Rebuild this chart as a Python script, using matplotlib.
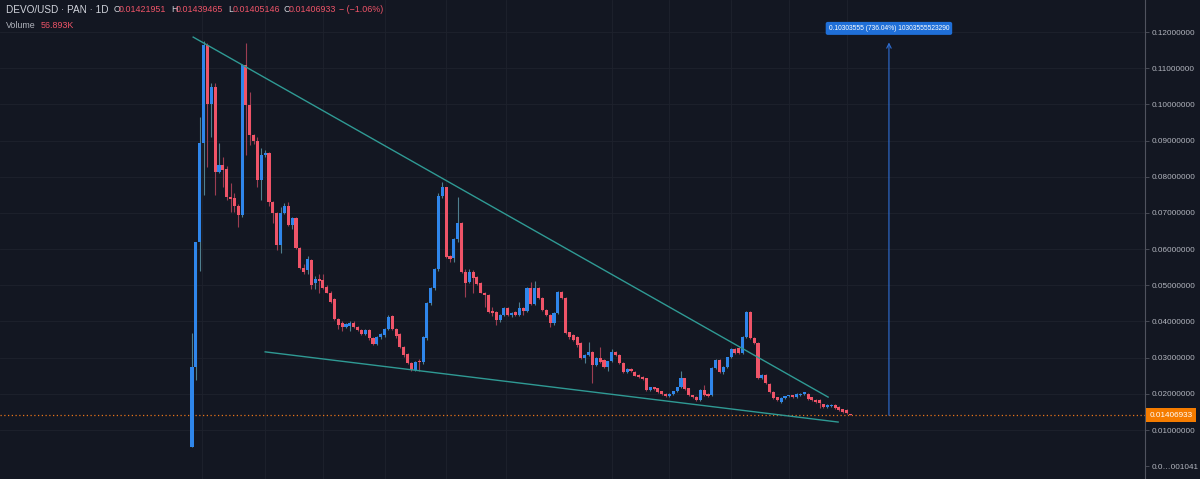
import matplotlib.pyplot as plt
import matplotlib.transforms as mtransforms

# DEVO/USD daily candles
opens = [0.0053, 0.0274, 0.0620, 0.0893, 0.1164, 0.1000, 0.1048, 0.0813, 0.0832, 0.0821,
         0.0745, 0.0741, 0.0718, 0.0694, 0.1109, 0.0998, 0.0915, 0.0899, 0.0791, 0.0860,
         0.0865, 0.0730, 0.0700, 0.0610, 0.0700, 0.0720, 0.0667, 0.0686, 0.0603, 0.0548,
         0.0543, 0.0570, 0.0506, 0.0517, 0.0514, 0.0495, 0.0480, 0.0462, 0.0407, 0.0396,
         0.0385, 0.0388, 0.0396, 0.0385, 0.0377, 0.0365, 0.0377, 0.0354, 0.0338, 0.0357,
         0.0362, 0.0379, 0.0414, 0.0379, 0.0365, 0.0330, 0.0310, 0.0285, 0.0266, 0.0288,
         0.0287, 0.0354, 0.0450, 0.0492, 0.0544, 0.0746, 0.0771, 0.0580, 0.0575, 0.0627,
         0.0672, 0.0537, 0.0509, 0.0537, 0.0523, 0.0506, 0.0480, 0.0474, 0.0428, 0.0426,
         0.0404, 0.0418, 0.0437, 0.0418, 0.0426, 0.0418, 0.0437, 0.0430, 0.0492, 0.0448,
         0.0492, 0.0465, 0.0432, 0.0418, 0.0396, 0.0423, 0.0481, 0.0465, 0.0370, 0.0362,
         0.0357, 0.0340, 0.0300, 0.0307, 0.0315, 0.0280, 0.0300, 0.0293, 0.0274, 0.0290,
         0.0315, 0.0307, 0.0285, 0.0260, 0.0270, 0.0260, 0.0252, 0.0246, 0.0243, 0.0210,
         0.0218, 0.0215, 0.0207, 0.0200, 0.0193, 0.0200, 0.0207, 0.0218, 0.0243, 0.0215,
         0.0196, 0.0192, 0.0183, 0.0210, 0.0200, 0.0196, 0.0271, 0.0293, 0.0260, 0.0274,
         0.0301, 0.0324, 0.0326, 0.0312, 0.0357, 0.0426, 0.0354, 0.0340, 0.0243, 0.0252,
         0.0227, 0.0205, 0.0190, 0.0178, 0.0188, 0.0193, 0.0196, 0.0190, 0.0196, 0.0199,
         0.0200, 0.0190, 0.0183, 0.0183, 0.0171, 0.0163, 0.0166, 0.0169, 0.0163, 0.0157,
         0.0155, 0.01421951]
highs = [0.0368, 0.0620, 0.0965, 0.1175, 0.1170, 0.1060, 0.1060, 0.0893, 0.0855, 0.0830,
         0.0782, 0.0755, 0.0725, 0.1112, 0.1170, 0.1034, 0.0918, 0.0910, 0.0879, 0.0875,
         0.0868, 0.0733, 0.0703, 0.0715, 0.0727, 0.0730, 0.0690, 0.0688, 0.0605, 0.0560,
         0.0580, 0.0572, 0.0525, 0.0530, 0.0530, 0.0500, 0.0483, 0.0465, 0.0410, 0.0400,
         0.0396, 0.0400, 0.0400, 0.0388, 0.0380, 0.0380, 0.0380, 0.0356, 0.0360, 0.0368,
         0.0382, 0.0418, 0.0418, 0.0382, 0.0368, 0.0333, 0.0312, 0.0287, 0.0292, 0.0295,
         0.0360, 0.0455, 0.0495, 0.0547, 0.0755, 0.0786, 0.0773, 0.0583, 0.0630, 0.0745,
         0.0675, 0.0545, 0.0545, 0.0543, 0.0526, 0.0508, 0.0482, 0.0476, 0.0440, 0.0428,
         0.0420, 0.0440, 0.0440, 0.0425, 0.0428, 0.0455, 0.0440, 0.0495, 0.0510, 0.0512,
         0.0495, 0.0467, 0.0434, 0.0420, 0.0426, 0.0484, 0.0484, 0.0467, 0.0372, 0.0365,
         0.0360, 0.0342, 0.0310, 0.0343, 0.0318, 0.0302, 0.0330, 0.0296, 0.0292, 0.0325,
         0.0318, 0.0310, 0.0287, 0.0272, 0.0272, 0.0262, 0.0254, 0.0248, 0.0245, 0.0220,
         0.0220, 0.0217, 0.0209, 0.0202, 0.0202, 0.0209, 0.0220, 0.0262, 0.0245, 0.0217,
         0.0198, 0.0194, 0.0212, 0.0225, 0.0202, 0.0273, 0.0295, 0.0296, 0.0276, 0.0303,
         0.0326, 0.0327, 0.0330, 0.0360, 0.0428, 0.0428, 0.0356, 0.0342, 0.0254, 0.0254,
         0.0229, 0.0207, 0.0192, 0.0190, 0.0195, 0.0198, 0.0198, 0.0201, 0.0201, 0.0206,
         0.0202, 0.0192, 0.0185, 0.0185, 0.0173, 0.0171, 0.0171, 0.0171, 0.0165, 0.0159,
         0.0157, 0.01439465]
lows = [0.0053, 0.0238, 0.0540, 0.0750, 0.0827, 0.0910, 0.0750, 0.0810, 0.0772, 0.0737,
        0.0702, 0.0702, 0.0661, 0.0690, 0.0860, 0.0887, 0.0890, 0.0772, 0.0735, 0.0855,
        0.0720, 0.0672, 0.0598, 0.0590, 0.0698, 0.0665, 0.0655, 0.0600, 0.0545, 0.0530,
        0.0530, 0.0490, 0.0490, 0.0480, 0.0490, 0.0478, 0.0450, 0.0405, 0.0380, 0.0375,
        0.0383, 0.0375, 0.0383, 0.0374, 0.0362, 0.0362, 0.0350, 0.0335, 0.0335, 0.0352,
        0.0358, 0.0376, 0.0376, 0.0355, 0.0328, 0.0303, 0.0282, 0.0262, 0.0262, 0.0264,
        0.0282, 0.0350, 0.0445, 0.0488, 0.0540, 0.0740, 0.0575, 0.0565, 0.0565, 0.0620,
        0.0535, 0.0468, 0.0505, 0.0480, 0.0500, 0.0478, 0.0440, 0.0424, 0.0415, 0.0390,
        0.0398, 0.0415, 0.0415, 0.0412, 0.0414, 0.0415, 0.0418, 0.0425, 0.0445, 0.0445,
        0.0462, 0.0428, 0.0415, 0.0385, 0.0390, 0.0420, 0.0462, 0.0365, 0.0352, 0.0345,
        0.0330, 0.0296, 0.0285, 0.0305, 0.0230, 0.0276, 0.0286, 0.0272, 0.0262, 0.0288,
        0.0304, 0.0283, 0.0257, 0.0257, 0.0260, 0.0248, 0.0244, 0.0238, 0.0208, 0.0207,
        0.0210, 0.0203, 0.0198, 0.0190, 0.0190, 0.0198, 0.0205, 0.0215, 0.0210, 0.0194,
        0.0189, 0.0181, 0.0181, 0.0194, 0.0191, 0.0194, 0.0268, 0.0258, 0.0255, 0.0272,
        0.0299, 0.0310, 0.0310, 0.0310, 0.0355, 0.0352, 0.0338, 0.0241, 0.0240, 0.0228,
        0.0203, 0.0186, 0.0181, 0.0176, 0.0186, 0.0191, 0.0188, 0.0188, 0.0194, 0.0197,
        0.0184, 0.0181, 0.0176, 0.0160, 0.0161, 0.0161, 0.0164, 0.0158, 0.0153, 0.0148,
        0.0144, 0.01405146]
closes = [0.0274, 0.0620, 0.0893, 0.1164, 0.1000, 0.1048, 0.0813, 0.0832, 0.0818, 0.0745,
          0.0739, 0.0718, 0.0694, 0.1109, 0.0998, 0.0915, 0.0899, 0.0791, 0.0860, 0.0866,
          0.0730, 0.0700, 0.0610, 0.0700, 0.0720, 0.0667, 0.0686, 0.0603, 0.0548, 0.0537,
          0.0572, 0.0500, 0.0517, 0.0512, 0.0492, 0.0480, 0.0454, 0.0407, 0.0390, 0.0385,
          0.0393, 0.0396, 0.0385, 0.0377, 0.0365, 0.0377, 0.0354, 0.0338, 0.0357, 0.0365,
          0.0379, 0.0412, 0.0379, 0.0360, 0.0330, 0.0307, 0.0285, 0.0266, 0.0288, 0.0287,
          0.0357, 0.0450, 0.0492, 0.0544, 0.0746, 0.0771, 0.0578, 0.0572, 0.0627, 0.0672,
          0.0537, 0.0506, 0.0537, 0.0520, 0.0504, 0.0480, 0.0474, 0.0426, 0.0423, 0.0404,
          0.0418, 0.0437, 0.0418, 0.0424, 0.0418, 0.0437, 0.0429, 0.0492, 0.0448, 0.0492,
          0.0465, 0.0432, 0.0418, 0.0396, 0.0423, 0.0481, 0.0465, 0.0368, 0.0357, 0.0349,
          0.0335, 0.0300, 0.0307, 0.0315, 0.0280, 0.0300, 0.0288, 0.0274, 0.0290, 0.0315,
          0.0307, 0.0285, 0.0260, 0.0270, 0.0263, 0.0250, 0.0246, 0.0240, 0.0210, 0.0218,
          0.0213, 0.0205, 0.0200, 0.0193, 0.0200, 0.0207, 0.0218, 0.0243, 0.0212, 0.0196,
          0.0192, 0.0183, 0.0210, 0.0196, 0.0193, 0.0271, 0.0293, 0.0260, 0.0274, 0.0301,
          0.0324, 0.0312, 0.0312, 0.0357, 0.0426, 0.0354, 0.0340, 0.0243, 0.0252, 0.0230,
          0.0205, 0.0188, 0.0183, 0.0188, 0.0193, 0.0196, 0.0190, 0.0199, 0.0199, 0.0204,
          0.0186, 0.0183, 0.0178, 0.0174, 0.0163, 0.0169, 0.0169, 0.0160, 0.0155, 0.0150,
          0.0146, 0.01406933]

price_ticks = [0.000001041, 0.01, 0.02, 0.03, 0.04, 0.05, 0.06, 0.07, 0.08, 0.09, 0.10, 0.11, 0.12]
price_labels = ['0.0…001041'] + ['%.8f' % p for p in price_ticks[1:]]
grid_days = [2.6, 19, 34, 50, 66, 81.5, 109, 124, 140, 155, 170]

# user drawn trend lines (day index, price)
upper_days = [0.3, 165.2]
upper_prices = [0.1186, 0.0191]
lower_days = [19.0, 167.8]
lower_prices = [0.0316, 0.0122]

measure_day = 181
measure_change = 0.10303555
measure_text = '0.10303555 (736.04%) 10303555523290'

BG = '#131722'
UP = '#2f86eb'
DOWN = '#ef5468'
UP_WICK = '#4f7f8f'
DOWN_WICK = '#9c3d52'
TXT = '#b2b5be'

plt.rcParams['font.family'] = ['Liberation Sans', 'DejaVu Sans']

fig = plt.figure(figsize=(12, 4.79), dpi=100, facecolor=BG)
ax = fig.add_axes([0, 0, 1145 / 1200, 1])
ax.set_facecolor(BG)

days = list(range(len(closes)))
for i in days:
    o, h, l, c = opens[i], highs[i], lows[i], closes[i]
    up = c >= o
    ax.vlines(i, l, h, color=UP_WICK if up else DOWN_WICK, lw=0.8, zorder=2)
    ax.bar(i, max(abs(c - o), 0.0003), bottom=min(o, c), width=0.8,
           color=UP if up else DOWN, lw=0, zorder=3)

# trend lines
ax.plot(upper_days, upper_prices, color='#2f9a94', lw=1.0, zorder=4)
ax.plot(lower_days, lower_prices, color='#2f9a94', lw=1.0, zorder=4)

# last price line
last = closes[-1]
ax.axhline(last, color='#e8741a', lw=0.9, ls=(0, (1, 2)), zorder=1)

# measure tool
ax.annotate('', xy=(measure_day, last + measure_change), xytext=(measure_day, last),
            arrowprops=dict(arrowstyle='->', color='#2f6fd6', lw=0.8,
                            shrinkA=0, shrinkB=0, mutation_scale=8), zorder=5)
ax.text(measure_day, last + measure_change + 0.0039, measure_text, ha='center', va='center',
        fontsize=4.8, color='white', zorder=6,
        bbox=dict(boxstyle='round,pad=0.45,rounding_size=0.3', fc='#1f6fd8', ec='none'))

# grid
for d in grid_days:
    ax.axvline(d, color='#1e222d', lw=0.6, zorder=0)
for p in price_ticks[1:]:
    ax.axhline(p, color='#1e222d', lw=0.6, zorder=0)

ax.set_xlim(-49.87, 247.5)
ax.set_ylim(-0.00354, 0.12885)
ax.set_xticks([])
ax.yaxis.tick_right()
ax.set_yticks(price_ticks)
ax.set_yticklabels(price_labels)
ax.tick_params(axis='y', colors='#50535e', labelcolor=TXT, labelsize=5.9, length=3, width=0.6, pad=2)
for side in ['top', 'left', 'bottom']:
    ax.spines[side].set_visible(False)
ax.spines['right'].set_color('#50535e')
ax.spines['right'].set_linewidth(0.8)

# last price tag on the axis
trans = mtransforms.blended_transform_factory(ax.transAxes, ax.transData)
ax.text(1.004, last, '%.8f' % last, transform=trans, ha='left', va='center',
        fontsize=5.9, color='white', clip_on=False, zorder=10,
        bbox=dict(boxstyle='square,pad=0.45', fc='#f57c00', ec='none'))

# header legend
RED = '#ef5468'
fig.text(6 / 1200, 1 - 10 / 479, 'DEVO/USD · PAN · 1D', color='#d1d4dc', fontsize=7.2, va='center')
ohlc = [('O', opens[-1], 114), ('H', highs[-1], 171), ('L', lows[-1], 228), ('C', closes[-1], 284)]
for letter, val, px in ohlc:
    fig.text(px / 1200, 1 - 10 / 479, letter, color='#d1d4dc', fontsize=6.4, va='center')
    fig.text((px + 5) / 1200, 1 - 10 / 479, '%.8f' % val, color=RED, fontsize=6.4, va='center')
fig.text(339 / 1200, 1 - 10 / 479, '− (−1.06%)', color=RED, fontsize=6.4, va='center')
fig.text(6 / 1200, 1 - 26 / 479, 'Volume', color=TXT, fontsize=6.4, va='center')
fig.text(41 / 1200, 1 - 26 / 479, '56.893K', color=RED, fontsize=6.4, va='center')

fig.savefig('out.png', dpi=100, facecolor=BG)
